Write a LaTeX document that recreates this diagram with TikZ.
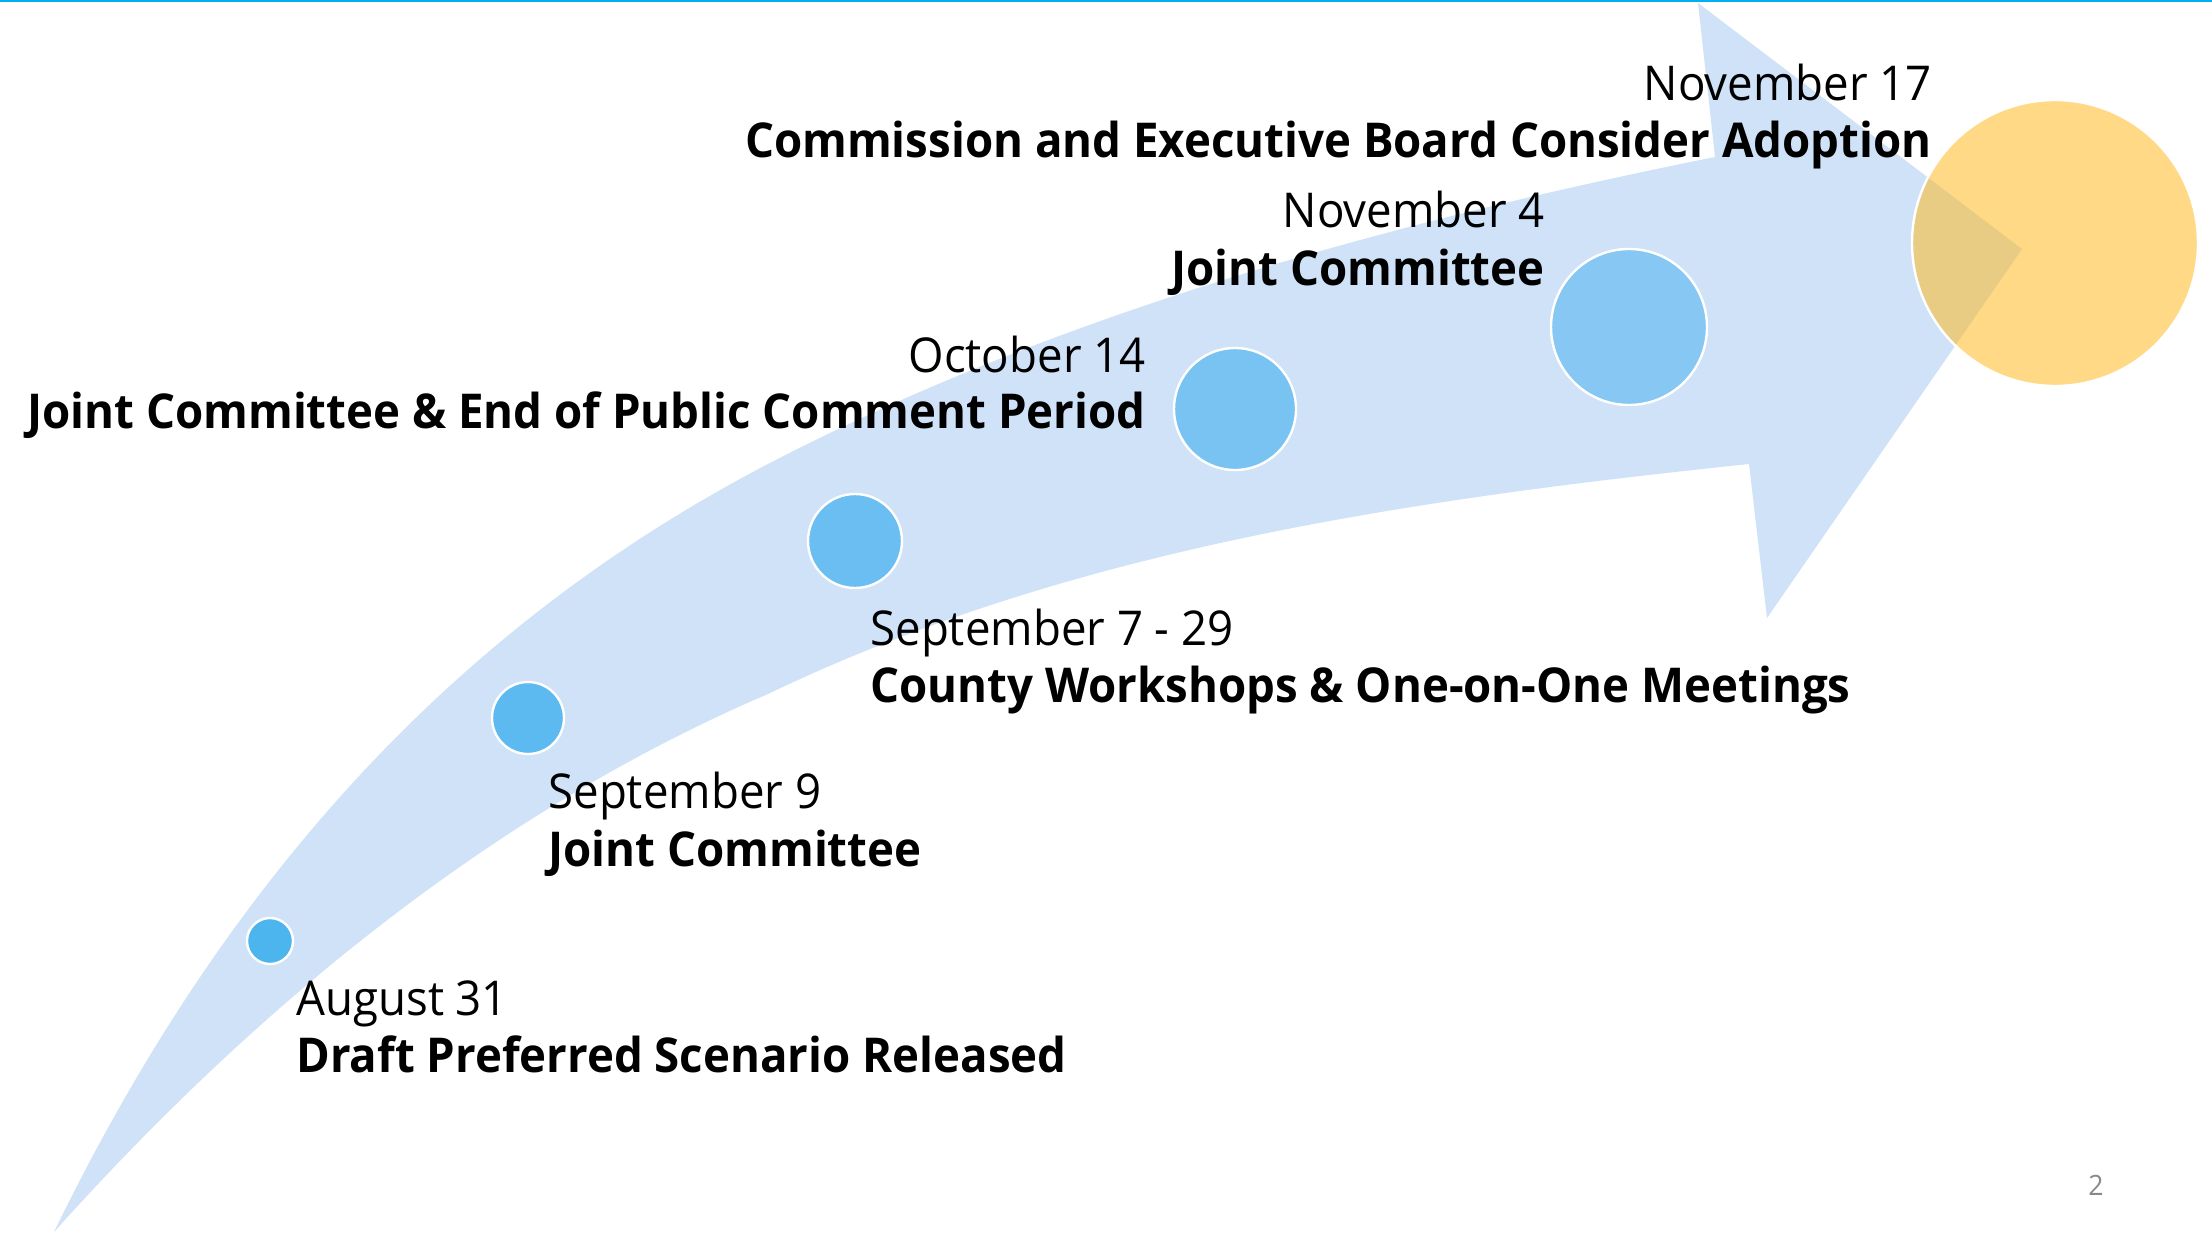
\documentclass[tikz,border=0pt]{standalone}
\usepackage{fontspec}
\setmainfont{Open Sans}[FakeStretch=0.95]
\definecolor{bandblue}{HTML}{CFE2F8}
\definecolor{topcyan}{HTML}{00B0F0}
\definecolor{dotA}{HTML}{4DB5EE}
\definecolor{dotB}{HTML}{5CBAF0}
\definecolor{dotC}{HTML}{6ABEF1}
\definecolor{dotD}{HTML}{78C3F2}
\definecolor{dotE}{HTML}{86C7F3}
\definecolor{goalyellow}{HTML}{FFB818}
\definecolor{pagegray}{HTML}{898989}
\begin{document}
\begin{tikzpicture}[x=0.5pt,y=-0.5pt,
  dot/.style={circle, draw=white, line width=1.2pt, inner sep=0pt},
  datetxt/.style={inner sep=0pt, font=\fontsize{24}{28}\selectfont},
  titletxt/.style={inner sep=0pt, font=\fontsize{24}{28}\selectfont\bfseries},
  pagenum/.style={inner sep=0pt, text=pagegray, font=\fontsize{14}{16}\selectfont}]
\useasboundingbox (0,0) rectangle (2212,1232);
\fill[white] (0,0) rectangle (2212,1232);
% top rule
\coordinate (tl) at (0,1);
\coordinate (tr) at (2212,1);
\draw[topcyan, line width=1.2pt] (tl) -- (tr);
% curved arrow band
\fill[bandblue]
  (54,1232) .. controls (216,899) and (440,635) .. (768,464)
  .. controls (1061,312) and (1392,222) .. (1715,157)
  -- (1698,3) -- (2022,249) -- (1767,618) -- (1749,464)
  .. controls (1405,500) and (1070,549) .. (768,694)
  .. controls (520,800) and (280,980) .. (54,1232) -- cycle;
% milestone dots
\node[dot, fill=dotA, minimum size=23pt] (d1) at (270,941) {};
\node[dot, fill=dotB, minimum size=36pt] (d2) at (528,718) {};
\node[dot, fill=dotC, minimum size=47pt] (d3) at (855,541) {};
\node[dot, fill=dotD, minimum size=61pt] (d4) at (1235,409) {};
\node[dot, fill=dotE, minimum size=78pt] (d5) at (1629,327) {};
\node[circle, draw=white, line width=1.2pt, fill=goalyellow, fill opacity=0.52, draw opacity=1, inner sep=0pt, minimum size=143pt] (goal) at (2055,243) {};
% labels
\node[datetxt, anchor=base east] (t6d) at (1932,100) {November 17};
\node[titletxt, anchor=base east] (t6t) at (1932,157) {Commission and Executive Board Consider Adoption};
\node[datetxt, anchor=base east] (t5d) at (1545,227) {November 4};
\node[titletxt, anchor=base east] (t5t) at (1545,285) {Joint Committee};
\node[datetxt, anchor=base east] (t4d) at (1146,372) {October 14};
\node[titletxt, anchor=base east] (t4t) at (1146,428) {Joint Committee \& End of Public Comment Period};
\node[datetxt, anchor=base west] (t3d) at (870,645) {September 7 - 29};
\node[titletxt, anchor=base west] (t3t) at (870,702) {County Workshops \& One-on-One Meetings};
\node[datetxt, anchor=base west] (t2d) at (548,808) {September 9};
\node[titletxt, anchor=base west] (t2t) at (548,866) {Joint Committee};
\node[datetxt, anchor=base west] (t1d) at (296,1015) {August 31};
\node[titletxt, anchor=base west] (t1t) at (296,1072) {Draft Preferred Scenario Released};
\node[pagenum, anchor=base east] (pg) at (2104,1195) {2};
\end{tikzpicture}
\end{document}
